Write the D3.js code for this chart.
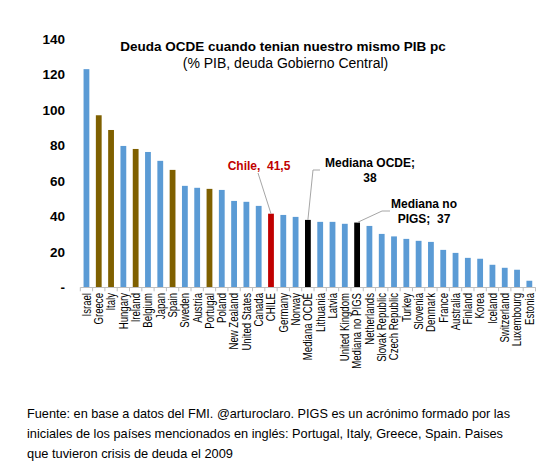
<!DOCTYPE html>
<html>
<head>
<meta charset="utf-8">
<script src="https://cdn.jsdelivr.net/npm/d3@7"></script>
<style>
  html, body { margin: 0; padding: 0; background: #fff; }
  svg { display: block; }
  text { font-family: "Liberation Sans", Arial, sans-serif; }
</style>
</head>
<body>
<svg id="chart" width="557" height="475"></svg>
<script>
// ---- data ----
const categories = ["Israel","Greece","Italy","Hungary","Ireland","Belgium","Japan","Spain","Sweden","Austria","Portugal","Poland","New Zealand","United States","Canada","CHILE","Germany","Norway","Mediana OCDE","Lithuania","Latvia","United Kingdom","Mediana no PIGS","Netherlands","Slovak Republic","Czech Republic","Turkey","Slovenia","Denmark","France","Australia","Finland","Korea","Iceland","Switzerland","Luxembourg","Estonia"];
const values = [123.0,97.0,88.7,79.7,78.0,76.3,71.3,66.2,57.2,56.1,55.5,54.9,48.7,48.2,45.9,41.5,40.8,39.7,38.0,36.9,36.9,35.8,36.5,34.6,30.1,28.7,27.3,26.2,25.6,21.1,19.4,16.6,16.1,12.7,11.0,9.9,3.7];
const groups = ["other","pigs","pigs","other","pigs","other","other","pigs","other","other","pigs","other","other","other","other","chile","other","other","median","other","other","other","median","other","other","other","other","other","other","other","other","other","other","other","other","other","other"];
const yTicks = [0,20,40,60,80,100,120,140];
const yTickLabels = ["-","20","40","60","80","100","120","140"];
const titleText = "Deuda OCDE cuando tenian nuestro mismo PIB pc";
const subtitleText = "(% PIB, deuda Gobierno Central)";
const annotations = [
  {cat: "CHILE", lines: ["Chile,  41,5"], color: "#c00000"},
  {cat: "Mediana OCDE", lines: ["Mediana OCDE;", "38"], color: "#000"},
  {cat: "Mediana no PIGS", lines: ["Mediana no", "PIGS;  37"], color: "#000"}
];
const footnoteLines = [
  "Fuente: en base a datos del FMI. @arturoclaro. PIGS es un acrónimo formado por las",
  "iniciales de los países mencionados en inglés: Portugal, Italy, Greece, Spain. Paises",
  "que tuvieron crisis de deuda el 2009"
];

// ---- styles ----
const colors = {other: "#5b9bd5", pigs: "#7f6000", chile: "#c00000", median: "#000000"};

const svg = d3.select("#chart");

const x = d3.scaleBand().domain(categories).range([80.3, 535.5]).paddingInner(0).paddingOuter(0);
const y = d3.scaleLinear().domain([0, 140]).range([287.3, 39]);
const barW = 5.8;

// bars
svg.append("g").selectAll("rect")
  .data(categories)
  .join("rect")
  .attr("x", (d) => x(d) + x.bandwidth() / 2 - barW / 2)
  .attr("width", barW)
  .attr("y", (d, i) => y(values[i]))
  .attr("height", (d, i) => y(0) - y(values[i]))
  .attr("fill", (d, i) => colors[groups[i]]);

// x axis line + ticks at boundaries
const gx = svg.append("g");
gx.append("line")
  .attr("x1", x.range()[0]).attr("x2", x.range()[1])
  .attr("y1", y(0) + 0.2).attr("y2", y(0) + 0.2)
  .attr("stroke", "#bfbfbf").attr("stroke-width", 1);
const bounds = categories.map(d => x(d)).concat([x.range()[1]]);
gx.selectAll("line.tk").data(bounds).join("line")
  .attr("class", "tk")
  .attr("x1", d => d).attr("x2", d => d)
  .attr("y1", y(0)).attr("y2", y(0) + 4)
  .attr("stroke", "#bfbfbf").attr("stroke-width", 1);

// x labels
gx.selectAll("text.xl").data(categories).join("text")
  .attr("class", "xl")
  .attr("transform", d => `translate(${x(d) + x.bandwidth() / 2},293) rotate(-90) scale(0.8,1)`)
  .attr("text-anchor", "end")
  .attr("dy", "0.36em")
  .attr("font-size", "12px")
  .attr("fill", "#000")
  .text(d => d);

// y tick labels
svg.append("g").selectAll("text").data(yTicks).join("text")
  .attr("x", 65)
  .attr("y", d => y(d))
  .attr("dy", "0.36em")
  .attr("text-anchor", "end")
  .attr("font-size", "13.5px")
  .attr("font-weight", "bold")
  .attr("fill", "#000")
  .text((d, i) => yTickLabels[i]);

// title
svg.append("text")
  .attr("x", 283).attr("y", 51)
  .attr("text-anchor", "middle")
  .attr("font-size", "13.5px").attr("font-weight", "bold")
  .text(titleText);
svg.append("text")
  .attr("x", 285.5).attr("y", 68)
  .attr("text-anchor", "middle")
  .attr("font-size", "14px")
  .text(subtitleText);

// annotations
const annLayout = {
  "CHILE": {tx: 259, ty: 170, path: (bx, by) => [[258, 173], [bx, by]]},
  "Mediana OCDE": {tx: 370, ty: 167, path: (bx, by) => [[320, 170], [313, 170], [bx, by]]},
  "Mediana no PIGS": {tx: 424, ty: 208, path: (bx, by) => [[390, 211], [382, 211], [bx, by]]}
};
const gA = svg.append("g");
annotations.forEach(a => {
  const i = categories.indexOf(a.cat);
  const bx = x(a.cat) + x.bandwidth() / 2;
  const by = y(values[i]);
  const L = annLayout[a.cat];
  gA.append("path")
    .attr("d", d3.line()(L.path(bx, by)))
    .attr("fill", "none").attr("stroke", "#a6a6a6").attr("stroke-width", 1);
  const t = gA.append("text")
    .attr("text-anchor", "middle")
    .attr("font-size", "12px").attr("font-weight", "bold")
    .attr("fill", a.color)
    .style("white-space", "pre");
  a.lines.forEach((ln, k) => {
    t.append("tspan").attr("x", L.tx).attr("y", L.ty + k * 14.5).text(ln);
  });
});

// footnote
const fnLens = [483, 476, 206];
svg.append("g").selectAll("text").data(footnoteLines).join("text")
  .attr("x", 27)
  .attr("y", (d, i) => 418 + i * 20)
  .attr("font-family", "'Open Sans', 'Noto Sans', sans-serif")
  .attr("font-size", "13.2px")
  .attr("fill", "#000")
  .attr("textLength", (d, i) => fnLens[i])
  .attr("lengthAdjust", "spacingAndGlyphs")
  .text(d => d);
</script>
</body>
</html>
